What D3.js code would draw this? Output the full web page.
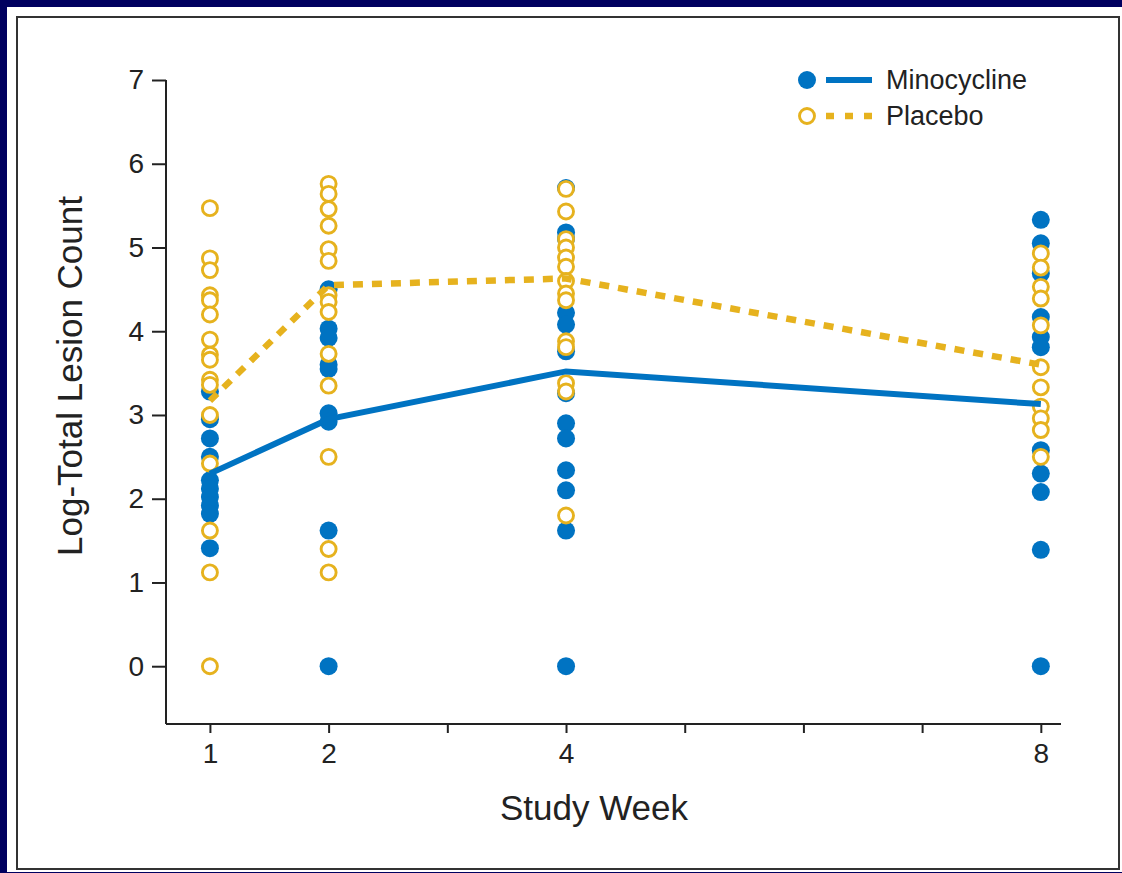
<!DOCTYPE html>
<html>
<head>
<meta charset="utf-8">
<script src="https://cdn.jsdelivr.net/npm/d3@7"></script>
<style>
  body { margin: 0; background: #00005f; }
  text { font-family: "Liberation Sans", Arial, sans-serif; fill: #222; }
</style>
</head>
<body>
<div id="chart"></div>
<script>
// study weeks and the values
const weeks = [1, 2, 4, 8];
const tickWeeks = [1, 2, 3, 4, 5, 6, 7, 8];
const yTicks = [0, 1, 2, 3, 4, 5, 6, 7];

const minoPoints = [
  [3.28, 2.95, 2.72, 2.5, 2.22, 2.12, 2.02, 1.92, 1.82, 1.41],
  [4.5, 4.03, 3.92, 3.6, 3.55, 3.02, 2.92, 1.62, 0],
  [5.71, 5.18, 5.1, 4.22, 4.08, 3.76, 3.26, 2.9, 2.72, 2.34, 2.1, 1.62, 0],
  [5.33, 5.05, 4.69, 4.17, 3.93, 3.81, 2.58, 2.3, 2.08, 1.39, 0]
];
const placeboPoints = [
  [5.47, 4.87, 4.73, 4.43, 4.37, 4.2, 3.9, 3.72, 3.66, 3.42, 3.36, 3.0, 2.42, 1.62, 1.12, 0],
  [5.76, 5.64, 5.46, 5.26, 4.98, 4.84, 4.43, 4.35, 4.23, 3.73, 3.35, 2.5, 1.4, 1.12],
  [5.7, 5.43, 5.1, 5.0, 4.88, 4.77, 4.6, 4.45, 4.37, 3.88, 3.81, 3.38, 3.28, 1.8],
  [4.93, 4.76, 4.53, 4.39, 4.07, 3.57, 3.33, 3.1, 2.96, 2.82, 2.5]
];
const minoMeans = [2.3, 2.95, 3.52, 3.13];
const placeboMeans = [3.17, 4.55, 4.63, 3.6];

const blue = "#0073c2";
const gold = "#e6b21e";

const W = 1122, H = 873;
const svg = d3.select("#chart").append("svg")
  .attr("width", W).attr("height", H);

// white panel on navy + thin frame
svg.append("rect").attr("x", 7).attr("y", 7).attr("width", W - 7).attr("height", 865)
  .attr("fill", "#fff");
svg.append("rect").attr("x", 17).attr("y", 17).attr("width", 1102).attr("height", 852)
  .attr("fill", "none").attr("stroke", "#333").attr("stroke-width", 2);

const x = d3.scaleLinear().domain([0.63, 8.17]).range([166, 1061]);
const y = d3.scaleLinear().domain([-0.69, 7]).range([724, 80]);

// axes
const xAxis = svg.append("g").attr("transform", "translate(0,724)")
  .call(d3.axisBottom(x).tickValues(tickWeeks).tickSize(9).tickPadding(10)
    .tickFormat(d => weeks.includes(d) ? d : ""));
const yAxis = svg.append("g").attr("transform", "translate(166,0)")
  .call(d3.axisLeft(y).tickValues(yTicks).tickSize(14).tickPadding(8));

[xAxis, yAxis].forEach(a => {
  a.select(".domain").attr("stroke", "#222").attr("stroke-width", 2);
  a.selectAll(".tick line").attr("stroke", "#222").attr("stroke-width", 2);
  a.selectAll(".tick text").style("font-size", "28px").attr("fill", "#222");
});
yAxis.select(".domain").attr("d", "M0,80V724");
xAxis.select(".domain").attr("d", "M166,0H1061");

// axis titles
svg.append("text").attr("x", 594).attr("y", 820).attr("text-anchor", "middle")
  .style("font-size", "35px").text("Study Week");
svg.append("text").attr("transform", "translate(82,376) rotate(-90)")
  .attr("text-anchor", "middle").style("font-size", "35px").text("Log-Total Lesion Count");

// points
const flat = (arr) => arr.flatMap((vals, i) => vals.map(v => ({ w: weeks[i], v })));

svg.append("g").selectAll("circle").data(flat(minoPoints)).join("circle")
  .attr("cx", d => x(d.w)).attr("cy", d => y(d.v)).attr("r", 9)
  .attr("fill", blue);

svg.append("g").selectAll("circle").data(flat(placeboPoints)).join("circle")
  .attr("cx", d => x(d.w)).attr("cy", d => y(d.v)).attr("r", 7.5)
  .attr("fill", "#fff").attr("stroke", gold).attr("stroke-width", 2.9);

// mean lines
const line = d3.line().x((d, i) => x(weeks[i])).y(d => y(d));
svg.append("path").datum(minoMeans).attr("d", line)
  .attr("fill", "none").attr("stroke", blue).attr("stroke-width", 6);
svg.append("path").datum(placeboMeans).attr("d", line)
  .attr("fill", "none").attr("stroke", gold).attr("stroke-width", 6.5)
  .attr("stroke-dasharray", "10,9");

// legend
const legend = svg.append("g");
legend.append("circle").attr("cx", 807).attr("cy", 80).attr("r", 9).attr("fill", blue);
legend.append("line").attr("x1", 826).attr("x2", 872).attr("y1", 80).attr("y2", 80)
  .attr("stroke", blue).attr("stroke-width", 6);
legend.append("text").attr("x", 886).attr("y", 89).style("font-size", "27px").text("Minocycline");
legend.append("circle").attr("cx", 807).attr("cy", 116).attr("r", 7.5)
  .attr("fill", "#fff").attr("stroke", gold).attr("stroke-width", 2.9);
legend.append("line").attr("x1", 826).attr("x2", 872).attr("y1", 116).attr("y2", 116)
  .attr("stroke", gold).attr("stroke-width", 6.5).attr("stroke-dasharray", "8,11");
legend.append("text").attr("x", 886).attr("y", 125).style("font-size", "27px").text("Placebo");
</script>
</body>
</html>
